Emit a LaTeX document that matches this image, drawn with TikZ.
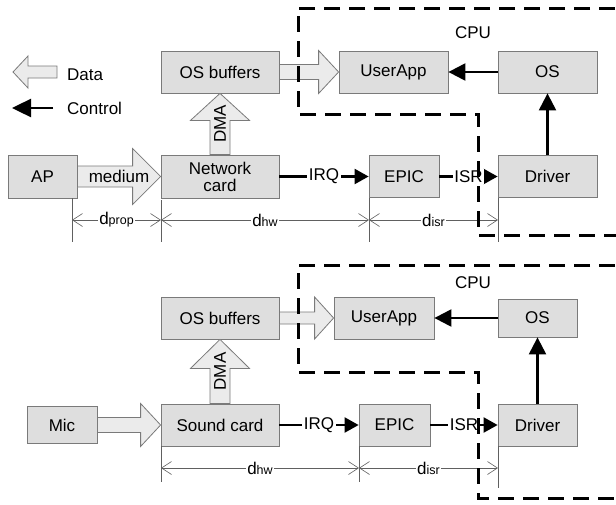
\documentclass[tikz,border=0pt]{standalone}
\usepackage{fontspec}
\setmainfont{Liberation Sans}
\usetikzlibrary{arrows.meta,calc}
\definecolor{boxfill}{HTML}{DEDEDE}
\definecolor{datafill}{HTML}{EBEBEB}
\definecolor{boxline}{HTML}{7A7A7A}
\definecolor{dimcol}{HTML}{606060}
\newcommand\myfs{\fontsize{17}{19}\selectfont}
\newcommand\dlab[1]{d{\fontsize{12.5}{13}\selectfont #1}}
% horizontal data arrow: start, tip, shaft half, head half, head length
\newcommand\hdata[5]{\draw[data] ($(#1)+(0,-#3)$) -- ($(#2)+(-#5,-#3)$) -- ($(#2)+(-#5,-#4)$) -- (#2) -- ($(#2)+(-#5,#4)$) -- ($(#2)+(-#5,#3)$) -- ($(#1)+(0,#3)$) -- cycle;}
% vertical (upward) data arrow
\newcommand\vdata[5]{\draw[data] ($(#1)+(-#3,0)$) -- ($(#2)+(-#3,#5)$) -- ($(#2)+(-#4,#5)$) -- (#2) -- ($(#2)+(#4,#5)$) -- ($(#2)+(#3,#5)$) -- ($(#1)+(#3,0)$) -- cycle;}
\begin{document}
\begin{tikzpicture}[x=1pt,y=-1pt,
  box/.style={draw=boxline, fill=boxfill, line width=0.8pt, inner sep=0pt, align=center, font=\myfs},
  data/.style={draw=boxline, fill=datafill, line width=0.8pt},
  ctrl/.style={line width=2.2pt, -{Triangle[length=14pt,width=15pt]}},
  lbl/.style={fill=white, inner sep=1.5pt, font=\myfs},
  dim/.style={draw=dimcol, line width=0.6pt, {Straight Barb[length=10pt,width=13pt]}-{Straight Barb[length=10pt,width=13pt]}},
  ext/.style={draw=dimcol, line width=0.6pt},
  cpu/.style={line width=3pt, dash pattern=on 16pt off 9pt},
  txt/.style={font=\myfs, inner sep=0pt}]
\useasboundingbox[fill=white] (0,0) rectangle (616,504);
\clip (0,0) rectangle (616,504);

% ---------- legend ----------
\draw[data] (13,72) -- (28,56) -- (28,66) -- (57,66) -- (57,78) -- (28,78) -- (28,88) -- cycle;
\node[txt, anchor=west] (ldata) at (67,75) {Data};
\coordinate (lc1) at (53,108);
\coordinate (lc2) at (12,108);
\draw[line width=2.4pt, -{Triangle[length=19pt,width=18pt]}] (lc1) -- (lc2);
\node[txt, anchor=west] (lctrl) at (67,108) {Control};

% ---------- top diagram ----------
\node[box, minimum width=118pt, minimum height=42pt] (osb1) at (220,72) {OS buffers};
\node[box, minimum width=109pt, minimum height=42pt] (ua1) at (393.5,72) {UserApp};
\node[box, minimum width=99pt, minimum height=42pt] (os1) at (547.5,72) {OS};
\node[box, minimum width=69pt, minimum height=43pt] (ap) at (42.5,176.5) {AP};
\node[box, minimum width=118pt, minimum height=43pt] (nc) at (220,176.5) {Network\\[-2pt]card};
\node[box, minimum width=70pt, minimum height=42pt] (epic1) at (404,176.5) {EPIC};
\node[box, minimum width=99pt, minimum height=42pt] (drv1) at (547.5,176.5) {Driver};
\node[txt] (cpu1) at (473,33) {CPU};

\hdata{ap.east}{nc.west}{10.5}{28}{28}
\node[txt] (med) at ($(ap.east)!0.5!(nc.west)$) {medium};
\vdata{nc.north}{osb1.south}{10}{29.5}{27}
\node[txt, rotate=90] (dma1) at ($(nc.north)!0.5!(osb1.south)$) {DMA};
\hdata{osb1.east}{ua1.west}{7.5}{21.5}{20}

\draw[ctrl, -{Triangle[length=17pt,width=17pt]}] (os1) -- (ua1);
\draw[ctrl, -{Triangle[length=17pt,width=17pt]}] (drv1) -- (os1);
\draw[ctrl] (nc) -- node[lbl] {IRQ} (epic1);
\draw[ctrl] (epic1) -- node[lbl] {ISR} (drv1);

\coordinate (e1a) at (72,198);   \coordinate (e1b) at (72,242);
\coordinate (e2a) at (161,200);  \coordinate (e2b) at (161,242);
\coordinate (e3a) at (369,198);  \coordinate (e3b) at (369,242);
\coordinate (e4a) at (498,198);  \coordinate (e4b) at (498,242);
\draw[ext] (e1a) -- (e1b);
\draw[ext] (e2a) -- (e2b);
\draw[ext] (e3a) -- (e3b);
\draw[ext] (e4a) -- (e4b);
\coordinate (d1) at (72,220); \coordinate (d2) at (161,220);
\coordinate (d3) at (369,220); \coordinate (d4) at (498,220);
\draw[dim] (d1) -- node[lbl] {\dlab{prop}} (d2);
\draw[dim] (d2) -- node[lbl] {\dlab{hw}} (d3);
\draw[dim] (d3) -- node[lbl] {\dlab{isr}} (d4);

% ---------- bottom diagram ----------
\node[box, minimum width=118pt, minimum height=42pt] (osb2) at (220,318) {OS buffers};
\node[box, minimum width=100pt, minimum height=42pt] (ua2) at (384,318) {UserApp};
\node[box, minimum width=79pt, minimum height=38pt] (os2) at (537.5,318) {OS};
\node[box, minimum width=70pt, minimum height=37pt] (mic) at (62,425) {Mic};
\node[box, minimum width=118pt, minimum height=42pt] (sc) at (220,425) {Sound card};
\node[box, minimum width=71pt, minimum height=42pt] (epic2) at (394.5,425) {EPIC};
\node[box, minimum width=79pt, minimum height=42pt] (drv2) at (537.5,425) {Driver};
\node[txt] (cpu2) at (473,283) {CPU};

\hdata{mic.east}{sc.west}{7.5}{21.5}{20}
\vdata{sc.north}{osb2.south}{10}{29.5}{29}
\node[txt, rotate=90] (dma2) at ($(sc.north)!0.5!(osb2.south)$) {DMA};
\hdata{osb2.east}{ua2.west}{6}{21}{19}

\draw[ctrl, -{Triangle[length=17pt,width=17pt]}] (os2) -- (ua2);
\draw[ctrl, -{Triangle[length=17pt,width=17pt]}] (drv2) -- (os2);
\draw[ctrl] (sc) -- node[lbl] {IRQ} (epic2);
\draw[ctrl] (epic2) -- node[lbl] {ISR} (drv2);

\coordinate (f1a) at (161,446);  \coordinate (f1b) at (161,482);
\coordinate (f2a) at (359,446);  \coordinate (f2b) at (359,482);
\coordinate (f3a) at (498,446);  \coordinate (f3b) at (498,488);
\draw[ext] (f1a) -- (f1b);
\draw[ext] (f2a) -- (f2b);
\draw[ext] (f3a) -- (f3b);
\coordinate (g1) at (161,468); \coordinate (g2) at (359,468); \coordinate (g3) at (498,468);
\draw[dim] (g1) -- node[lbl] {\dlab{hw}} (g2);
\draw[dim] (g2) -- node[lbl] {\dlab{isr}} (g3);

% ---------- CPU regions ----------
\draw[cpu] (640,8) -- (298,8) -- (298,114) -- (478,114) -- (478,235) -- (640,235);
\draw[cpu] (640,265) -- (298,265) -- (298,372) -- (478,372) -- (478,498) -- (640,498);
\end{tikzpicture}
\end{document}
